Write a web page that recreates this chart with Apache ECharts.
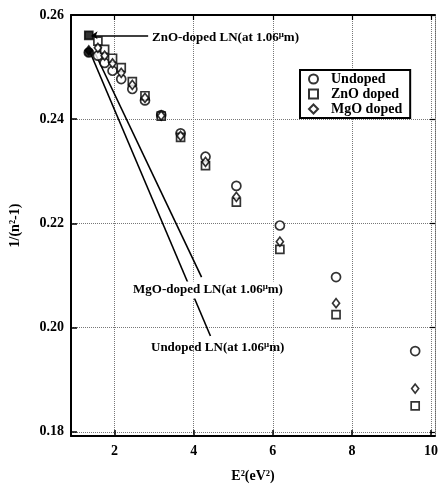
<!DOCTYPE html>
<html>
<head>
<meta charset="utf-8">
<script src="https://cdn.jsdelivr.net/npm/echarts@6/dist/echarts.min.js"></script>
<style>
  html, body { margin: 0; padding: 0; background: #fff; }
  #main { width: 441px; height: 488px; }
</style>
</head>
<body>
<div id="main"></div>
<script>
// photon energy squared (eV^2)
var e2 = [1.35, 1.58, 1.75, 1.95, 2.17, 2.45, 2.77, 3.18, 3.67, 4.30, 5.08, 6.18, 7.60, 9.60];
// 1/(n^2-1) for each crystal, first point is the 1.06um one (filled)
var undoped = [0.2528, 0.2522, 0.2508, 0.2493, 0.2477, 0.2458, 0.2436, 0.2408, 0.2373, 0.2328, 0.2272, 0.2196, 0.2097, 0.1955];
var znoDoped = [0.2561, 0.2550, 0.2534, 0.2517, 0.2499, 0.2472, 0.2445, 0.2406, 0.2365, 0.2311, 0.2241, 0.2150, 0.2025, 0.1850];
var mgoDoped = [0.2532, 0.2537, 0.2522, 0.2507, 0.2489, 0.2466, 0.2441, 0.2407, 0.2368, 0.2318, 0.2251, 0.2165, 0.2047, 0.1883];

// pointer lines to the labels (data coords)
var undopedPointer = [[1.375, 0.2530], [4.425, 0.1984]];
var mgoPointer = [[1.50, 0.2528], [4.20, 0.2097]];
var znoPointer = [[2.85, 0.2561], [1.42, 0.2561]];

var xTicks = [2, 4, 6, 8, 10];
var yTicks = [0.18, 0.20, 0.22, 0.24, 0.26];

var font = "'Liberation Serif', 'Times New Roman', serif";

function points(ys) {
  return ys.map(function (y, i) {
    var p = { value: [e2[i], y] };
    if (i === 0) p.itemStyle = { color: '#000' };
    return p;
  });
}

var openMark = { color: '#fff', borderColor: '#000', borderWidth: 1.7 };
var labelRich = {
  sup: { fontSize: 9, fontWeight: 'bold', fontFamily: font, padding: [0, 0, 6, 0] }
};

function note(x, y, txt, bg) {
  return {
    type: 'text', x: x, y: y, z: 100,
    style: {
      text: txt + '(at 1.06{sup|\u03bc}m)',
      font: 'bold 13px ' + font,
      fill: '#000',
      verticalAlign: 'middle',
      backgroundColor: bg ? '#fff' : null,
      padding: bg ? [1, 2] : 0,
      rich: labelRich
    }
  };
}

var chart = echarts.init(document.getElementById('main'));
chart.setOption({
  animation: false,
  backgroundColor: '#fff',
  grid: { left: 71, top: 15, right: 4, bottom: 51 },
  legend: {
    data: ['Undoped', 'ZnO doped', 'MgO doped'],
    orient: 'vertical',
    left: 300, top: 70,
    backgroundColor: '#fff',
    borderColor: '#000', borderWidth: 2, borderRadius: 0,
    padding: [2, 8, 2, 8],
    itemGap: 1, itemWidth: 9, itemHeight: 9,
    textStyle: { fontFamily: font, fontWeight: 'bold', fontSize: 14, color: '#000', padding: [0, 0, 0, 8] }
  },
  xAxis: [{
    type: 'value', min: 0.9, max: 10.1,
    name: 'E\u00b2(eV\u00b2)', nameLocation: 'middle', nameGap: 33,
    nameTextStyle: { fontFamily: font, fontWeight: 'bold', fontSize: 14, color: '#000' },
    axisLine: { lineStyle: { color: '#000', width: 2 } },
    axisTick: { inside: true, length: 6, customValues: xTicks, lineStyle: { color: '#000', width: 1.5 } },
    axisLabel: { customValues: xTicks, fontFamily: font, fontWeight: 'bold', fontSize: 14, color: '#000', margin: 8 },
    splitLine: { show: true, lineStyle: { type: 'dotted', color: '#777', width: 1 } }
  }, {
    type: 'value', min: 0.9, max: 10.1, position: 'top',
    axisLine: { lineStyle: { color: '#000', width: 2 } },
    axisTick: { inside: true, length: 5, customValues: xTicks, lineStyle: { color: '#000', width: 1.2 } },
    axisLabel: { show: false },
    splitLine: { show: false }
  }],
  yAxis: [{
    type: 'value', min: 0.1792, max: 0.26,
    name: '1/(n\u00b2-1)', nameLocation: 'middle', nameGap: 49,
    nameTextStyle: { fontFamily: font, fontWeight: 'bold', fontSize: 14, color: '#000' },
    axisLine: { lineStyle: { color: '#000', width: 2 } },
    axisTick: { inside: true, length: 6, customValues: yTicks, lineStyle: { color: '#000', width: 1.5 } },
    axisLabel: {
      customValues: yTicks, fontFamily: font, fontWeight: 'bold', fontSize: 14, color: '#000', margin: 7,
      formatter: function (v) { return v.toFixed(2); }
    },
    splitLine: { show: true, lineStyle: { type: 'dotted', color: '#777', width: 1 } }
  }, {
    type: 'value', min: 0.1792, max: 0.26, position: 'right',
    axisLine: { show: true, lineStyle: { color: '#666', width: 1, type: 'dotted' } },
    axisTick: { inside: true, length: 5, customValues: yTicks, lineStyle: { color: '#000', width: 1.2 } },
    axisLabel: { show: false },
    splitLine: { show: false }
  }],
  graphic: [
    note(152, 38, 'ZnO-doped LN', false),
    note(131, 290, 'MgO-doped LN', true),
    note(151, 348, 'Undoped LN', false)
  ],
  series: [{
    type: 'line', silent: true, symbol: 'none', z: 1,
    lineStyle: { color: '#000', width: 1.6 },
    data: undopedPointer
  }, {
    type: 'line', silent: true, symbol: 'none', z: 1,
    lineStyle: { color: '#000', width: 1.6 },
    data: mgoPointer
  }, {
    name: 'Undoped', type: 'scatter', symbol: 'circle', symbolSize: 9,
    itemStyle: openMark, data: points(undoped)
  }, {
    name: 'ZnO doped', type: 'scatter', symbol: 'rect', symbolSize: 8,
    itemStyle: openMark, data: points(znoDoped),
    markLine: {
      silent: true, symbol: ['none', 'arrow'], symbolSize: 6,
      lineStyle: { color: '#000', type: 'solid', width: 1.5 },
      label: { show: false },
      data: [[{ coord: znoPointer[0] }, { coord: znoPointer[1] }]]
    }
  }, {
    name: 'MgO doped', type: 'scatter', symbol: 'diamond', symbolSize: [7, 9],
    itemStyle: openMark, data: points(mgoDoped)
  }]
});
</script>
</body>
</html>
